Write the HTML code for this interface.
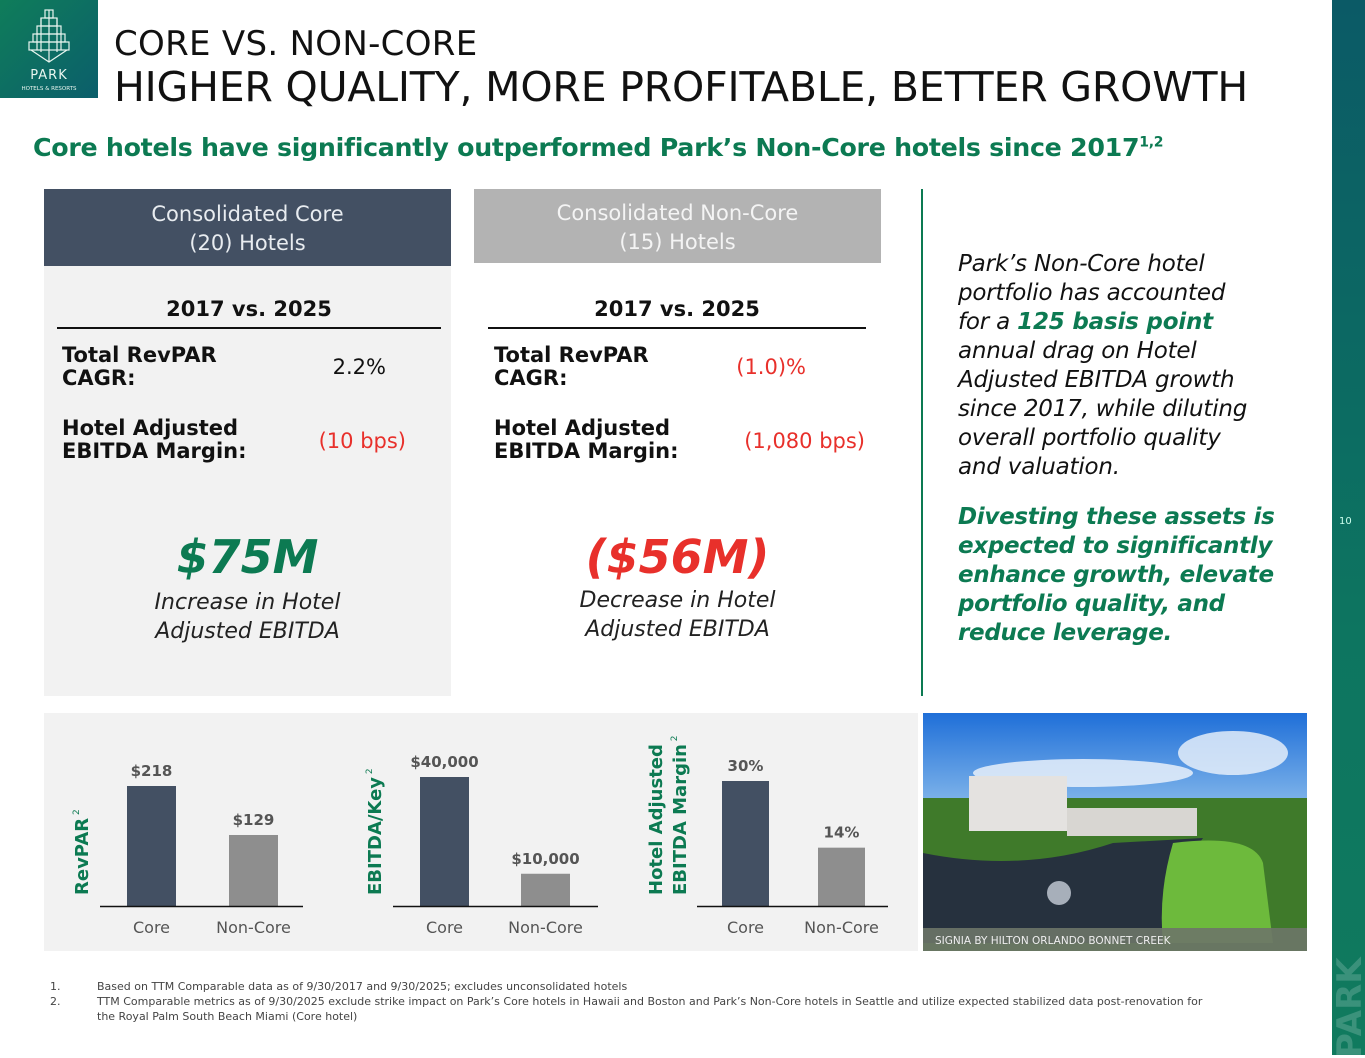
<!DOCTYPE html>
<html><head><meta charset="utf-8">
<style>
*{margin:0;padding:0;box-sizing:border-box}
body{width:1365px;height:1055px;position:relative;background:#fff;font-family:"DejaVu Sans","Liberation Sans",sans-serif;overflow:hidden;color:#111}
.abs{position:absolute}
.c{text-align:center}
.green{color:#0c7a52}
.red{color:#e8302b}
.lbl{font-weight:bold;font-size:21px;line-height:23px;color:#111;font-family:"DejaVu Sans",sans-serif}
.val{font-size:21px;text-align:right}
.fn{display:flex}
.fn span:first-child{width:47px;flex:none}
</style></head><body>
<div class="abs" style="left:0;top:0;width:98px;height:98px;background:linear-gradient(135deg,#0f7d5a,#0b5e6b)">
 <svg width="98" height="98">
  <g fill="none" stroke="#e8f5ef" stroke-width="1.2">
   <rect x="45" y="10" width="8" height="8"/><rect x="41" y="18" width="16" height="8"/><rect x="37" y="26" width="24" height="8"/><rect x="33" y="34" width="32" height="8"/><rect x="29" y="42" width="40" height="8"/>
   <path d="M49 10V62M41 18V52M57 18V52M37 34V50M61 34V50M31 50L49 62L67 50"/>
  </g>
  <text x="49" y="79" fill="#e8f5ef" font-size="13" text-anchor="middle" font-family="DejaVu Sans" letter-spacing="1">PARK</text>
  <text x="49" y="90" fill="#e8f5ef" font-size="5.5" text-anchor="middle" font-family="DejaVu Sans">HOTELS &amp; RESORTS</text>
 </svg>
</div>
<div class="abs" style="left:114px;top:24px;font-size:34px;white-space:nowrap;letter-spacing:0.3px">CORE VS. NON-CORE</div>
<div class="abs" style="left:114px;top:63px;font-size:41px;white-space:nowrap;letter-spacing:-0.2px">HIGHER QUALITY, MORE PROFITABLE, BETTER GROWTH</div>
<div class="abs green" style="left:33px;top:133px;font-size:25.3px;font-weight:bold;white-space:nowrap;letter-spacing:-0.3px">Core hotels have significantly outperformed Park’s Non-Core hotels since 2017<sup style="font-size:14px">1,2</sup></div>

<div class="abs" style="left:1332px;top:0;width:33px;height:1055px;background:linear-gradient(180deg,#0b5a66,#0d7560 60%,#107a5e)"></div>
<div class="abs" style="left:1339px;top:516px;font-size:10px;color:#cfe;">10</div>
<div class="abs" style="left:1330px;font-size:34px;font-weight:bold;color:rgba(255,255,255,0.18);transform:rotate(-90deg);transform-origin:left top;top:1058px;">PARK</div>

<div class="abs" style="left:44px;top:266px;width:407px;height:430px;background:#f2f2f2"></div>
<div class="abs c" style="left:44px;top:189px;width:407px;height:77px;background:#435063;color:#e8ecf0;font-size:21px;line-height:29px;padding-top:11px">Consolidated Core<br>(20) Hotels</div>
<div class="abs c" style="left:474px;top:189px;width:407px;height:74px;background:#b3b3b3;color:#f4f4f4;font-size:21px;line-height:29px;padding-top:10px">Consolidated Non-Core<br>(15) Hotels</div>

<div class="abs c" style="left:57px;top:297px;width:384px;font-size:21px;font-weight:bold">2017 vs. 2025</div>
<div class="abs" style="left:57px;top:327px;width:384px;height:2px;background:#111"></div>
<div class="abs lbl" style="left:62px;top:344px">Total RevPAR<br>CAGR:</div>
<div class="abs val" style="left:280px;top:355px;width:106px">2.2%</div>
<div class="abs lbl" style="left:62px;top:417px">Hotel Adjusted<br>EBITDA Margin:</div>
<div class="abs val red" style="left:260px;top:429px;width:146px">(10 bps)</div>
<div class="abs c green" style="left:44px;top:530px;width:407px;font-size:46px;font-weight:bold;font-style:italic">$75M</div>
<div class="abs c" style="left:44px;top:588px;width:407px;font-size:22px;line-height:29px;font-style:italic;color:#222">Increase in Hotel<br>Adjusted EBITDA</div>

<div class="abs c" style="left:488px;top:297px;width:378px;font-size:21px;font-weight:bold">2017 vs. 2025</div>
<div class="abs" style="left:488px;top:327px;width:378px;height:2px;background:#111"></div>
<div class="abs lbl" style="left:494px;top:344px">Total RevPAR<br>CAGR:</div>
<div class="abs val red" style="left:700px;top:355px;width:106px">(1.0)%</div>
<div class="abs lbl" style="left:494px;top:417px">Hotel Adjusted<br>EBITDA Margin:</div>
<div class="abs val red" style="left:700px;top:429px;width:165px">(1,080 bps)</div>
<div class="abs c red" style="left:474px;top:530px;width:407px;font-size:46px;font-weight:bold;font-style:italic">($56M)</div>
<div class="abs c" style="left:474px;top:586px;width:407px;font-size:22px;line-height:29px;font-style:italic;color:#222">Decrease in Hotel<br>Adjusted EBITDA</div>

<div class="abs" style="left:921px;top:189px;width:2px;height:507px;background:#0c7a52"></div>
<div class="abs" style="left:958px;top:250px;font-size:23px;line-height:29px;font-style:italic;color:#111;letter-spacing:-0.2px;white-space:nowrap">Park’s Non-Core hotel<br>portfolio has accounted<br>for a <b class="green">125 basis point</b><br>annual drag on Hotel<br>Adjusted EBITDA growth<br>since 2017, while diluting<br>overall portfolio quality<br>and valuation.</div>
<div class="abs green" style="left:958px;top:503px;font-size:23px;line-height:29px;font-style:italic;font-weight:bold;letter-spacing:-0.3px;white-space:nowrap">Divesting these assets is<br>expected to significantly<br>enhance growth, elevate<br>portfolio quality, and<br>reduce leverage.</div>

<div class="abs" style="left:44px;top:713px;width:874px;height:238px;background:#f2f2f2"></div>
<svg class="abs" id="charts" style="left:0;top:0" width="920" height="960"></svg>

<svg class="abs" style="left:923px;top:713px" width="384" height="238">
 <defs><linearGradient id="sky" x1="0" y1="0" x2="0" y2="1"><stop offset="0" stop-color="#1f6fd8"/><stop offset="1" stop-color="#7fb4ea"/></linearGradient></defs>
 <rect width="384" height="90" fill="url(#sky)"/>
 <ellipse cx="160" cy="60" rx="110" ry="14" fill="#e8f0fa" opacity="0.85"/>
 <ellipse cx="310" cy="40" rx="55" ry="22" fill="#eef4fb" opacity="0.8"/>
 <rect y="85" width="384" height="153" fill="#3f7a2a"/>
 <rect x="46" y="63" width="98" height="55" fill="#e4e2e0"/>
 <rect x="144" y="95" width="130" height="28" fill="#d8d6d2"/>
 <path d="M0 140 Q100 160 190 130 L280 125 Q240 180 245 230 L0 230Z" fill="#26313e"/>
 <path d="M250 130 Q330 120 340 150 L350 230 L240 230 Q235 180 250 130Z" fill="#6dba3c"/>
 <circle cx="136" cy="180" r="12" fill="#c8d0da" opacity="0.8"/>
 <rect y="215" width="384" height="23" fill="#6d7568" opacity="0.9"/>
 <text x="12" y="231" fill="#eee" font-size="10.5" font-family="DejaVu Sans">SIGNIA BY HILTON ORLANDO BONNET CREEK</text>
</svg>

<div class="abs" style="left:50px;top:979px;width:1260px;font-size:11px;line-height:15px;color:#444;white-space:nowrap">
 <div class="fn"><span>1.</span><span>Based on TTM Comparable data as of 9/30/2017 and 9/30/2025; excludes unconsolidated hotels</span></div>
 <div class="fn"><span>2.</span><span>TTM Comparable metrics as of 9/30/2025 exclude strike impact on Park’s Core hotels in Hawaii and Boston and Park’s Non-Core hotels in Seattle and utilize expected stabilized data post-renovation for<br>the Royal Palm South Beach Miami (Core hotel)</span></div>
</div>

<script>
const categories = ["Core", "Non-Core"];
const revparValues = [218, 129];
const revparLabels = ["$218", "$129"];
const ebitdaKeyValues = [40000, 10000];
const ebitdaKeyLabels = ["$40,000", "$10,000"];
const marginValues = [30, 14];
const marginLabels = ["30%", "14%"];

const NS = "http://www.w3.org/2000/svg";
const svg = document.getElementById("charts");
const baseY = 906;
function mk(tag, attrs, parent) {
  const e = document.createElementNS(NS, tag);
  for (const k in attrs) e.setAttribute(k, attrs[k]);
  (parent || svg).appendChild(e);
  return e;
}
const charts = [
  {name: "revpar", vals: revparValues, labels: revparLabels, scale: v => v * 120 / 218, axisX: [100, 303], barX: [127, 229], barW: 49, title: ["RevPAR"], titleX: [88]},
  {name: "ebitda-per-key", vals: ebitdaKeyValues, labels: ebitdaKeyLabels, scale: v => v * 129 / 40000, axisX: [393, 598], barX: [420, 521], barW: 49, title: ["EBITDA/Key"], titleX: [381]},
  {name: "ebitda-margin", vals: marginValues, labels: marginLabels, scale: v => v * 125 / 30, axisX: [697, 888], barX: [722, 818], barW: 47, title: ["Hotel Adjusted", "EBITDA Margin"], titleX: [662, 686]}
];
const colors = ["#435063", "#8e8e8e"];
charts.forEach(c => {
  const g = mk("g", {});
  
  
  c.vals.forEach((v, i) => {
    const h = c.scale(v);
    const r = mk("rect", {x: c.barX[i], y: baseY - h, width: c.barW, height: h, fill: colors[i]}, g);
    
    
    const t = mk("text", {x: c.barX[i] + c.barW / 2, y: baseY - h - 10, "text-anchor": "middle", "font-size": 15, "font-weight": "bold", fill: "#555", "font-family": "DejaVu Sans"}, g);
    t.textContent = c.labels[i];
    
    
    const cl = mk("text", {x: c.barX[i] + c.barW / 2, y: 933, "text-anchor": "middle", "font-size": 16, fill: "#555", "font-family": "DejaVu Sans"}, g);
    cl.textContent = categories[i];
    
    
  });
  const ax = mk("line", {x1: c.axisX[0], x2: c.axisX[1], y1: baseY + 0.5, y2: baseY + 0.5, stroke: "#111", "stroke-width": 1.5}, g);
  
  
  c.title.forEach((tt, j) => {
    const t = mk("text", {x: 0, y: 0, transform: `translate(${c.titleX[j]},895) rotate(-90)`, "font-size": 18, "font-weight": "bold", fill: "#0c7a52", "font-family": "DejaVu Sans"}, g);
    t.textContent = tt;
    if (j === c.title.length - 1) {
      const s = mk("tspan", {"font-size": 9, dy: -9, fill: "#0c7a52", "font-weight": "normal"}, t);
      s.textContent = " 2";
    }
    
    
  });
});
</script>
</body></html>
